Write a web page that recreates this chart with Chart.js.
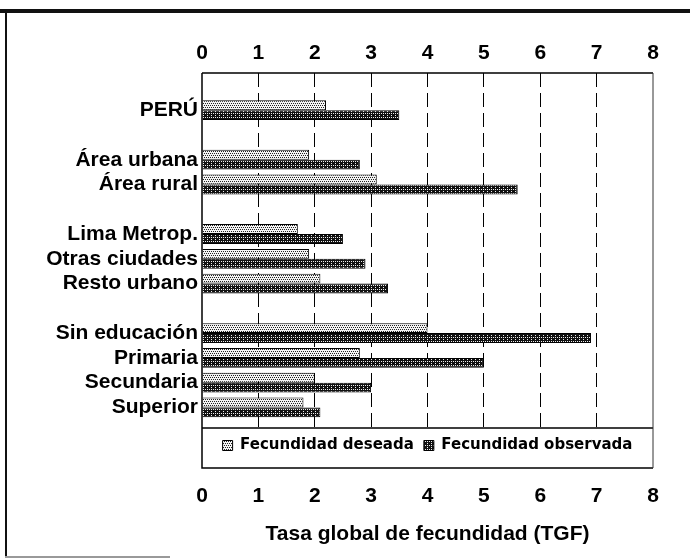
<!DOCTYPE html>
<html>
<head>
<meta charset="utf-8">
<script src="https://cdn.jsdelivr.net/npm/chart.js@4/dist/chart.umd.min.js"></script>
<style>
  html, body { margin: 0; padding: 0; background: #fff; }
  #wrap { width: 690px; height: 560px; }
</style>
</head>
<body>
<div id="wrap"><canvas id="tgf" width="690" height="560"></canvas></div>
<script>
// categories (blank entries are the gaps between groups)
const categories = ['PERÚ', '', 'Área urbana', 'Área rural', '', 'Lima Metrop.', 'Otras ciudades', 'Resto urbano', '', 'Sin educación', 'Primaria', 'Secundaria', 'Superior'];
const deseada   = [2.2, null, 1.9, 3.1, null, 1.7, 1.9, 2.1, null, 4.0, 2.8, 2.0, 1.8];
const observada = [3.5, null, 2.8, 5.6, null, 2.5, 2.9, 3.3, null, 6.9, 5.0, 3.0, 2.1];
const xTicks = [0, 1, 2, 3, 4, 5, 6, 7, 8];
const seriesNames = ['Fecundidad deseada', 'Fecundidad observada'];
const axisTitle = 'Tasa global de fecundidad (TGF)';

const LABEL_FONT = "'Liberation Sans', Arial, sans-serif";

function makePattern(w, h, bg, fg, dots) {
    const c = document.createElement('canvas');
    c.width = w; c.height = h;
    const g = c.getContext('2d');
    g.fillStyle = bg;
    g.fillRect(0, 0, w, h);
    g.fillStyle = fg;
    dots.forEach(d => g.fillRect(d[0], d[1], d[2], d[3]));
    return g.createPattern(c, 'repeat');
}

// light dotted fill and dark crosshatch fill, like the printed figure
const lightFill = makePattern(4, 4, '#f4f4f4', '#222', [[0, 1, 1, 1], [2, 1, 1, 1], [1, 3, 1, 1], [3, 3, 1, 1]]);
const darkFill = makePattern(4, 4, '#111', '#eee', [[1, 1, 1, 1], [3, 3, 1, 1], [3, 1, 1, 1]]);

function toPoints(values) {
    return values.map((v, i) => ({ x: v, y: i })).filter(p => p.x !== null);
}

// scanned page border
const pageFrame = {
    id: 'pageFrame',
    beforeDraw(chart) {
        const c = chart.ctx;
        c.save();
        c.fillStyle = '#fff';
        c.fillRect(0, 0, chart.width, chart.height);
        c.fillStyle = '#111';
        c.fillRect(0, 9, chart.width, 4);
        c.fillRect(5, 9, 2, 549);
        c.fillStyle = '#999';
        c.fillRect(5, 556, 165, 2);
        c.restore();
    }
};

// box round the plot and the legend
const plotFrame = {
    id: 'plotFrame',
    afterDatasetsDraw(chart) {
        const a = chart.chartArea;
        const boxBottom = chart.legend.top + 40;
        const c = chart.ctx;
        c.save();
        c.strokeStyle = '#000';
        c.lineWidth = 1.5;
        c.beginPath();
        c.moveTo(a.left, a.top); c.lineTo(a.right, a.top);
        c.moveTo(a.left, a.top); c.lineTo(a.left, boxBottom);
        c.lineTo(a.right, boxBottom);
        c.moveTo(a.left, a.bottom); c.lineTo(a.right, a.bottom);
        c.stroke();
        c.lineWidth = 1;
        c.strokeStyle = '#333';
        c.beginPath();
        c.moveTo(a.right, a.top); c.lineTo(a.right, boxBottom);
        c.stroke();
        c.restore();
    }
};

Chart.defaults.font.family = LABEL_FONT;
Chart.defaults.color = '#000';

new Chart(document.getElementById('tgf'), {
    type: 'bar',
    data: {
        datasets: [
            {
                label: seriesNames[0],
                data: toPoints(deseada),
                backgroundColor: lightFill,
                borderColor: '#000',
                borderWidth: 1
            },
            {
                label: seriesNames[1],
                data: toPoints(observada),
                backgroundColor: darkFill,
                borderColor: '#000',
                borderWidth: 1
            }
        ]
    },
    options: {
        indexAxis: 'y',
        responsive: false,
        animation: false,
        categoryPercentage: 0.8,
        barPercentage: 1,
        layout: { padding: { left: 0, right: 37, top: 0, bottom: 0 } },
        plugins: {
            tooltip: { enabled: false },
            legend: {
                position: 'bottom',
                fullSize: false,
                weight: -1,
                labels: {
                    font: { family: "'DejaVu Sans', sans-serif", size: 15, weight: 'bold' },
                    boxWidth: 10,
                    boxHeight: 10,
                    padding: 10,
                    color: '#000'
                }
            }
        },
        scales: {
            x: {
                type: 'linear',
                position: 'top',
                min: 0,
                max: 8,
                afterBuildTicks: s => { s.ticks = xTicks.map(v => ({ value: v })); },
                afterFit: s => { s.height = 73; },
                ticks: { padding: 7, font: { size: 21, weight: 'bold' } },
                border: { display: false, dash: [14, 6] },
                grid: {
                    drawTicks: false,
                    color: ctx => (ctx.tick && (ctx.tick.value === 0 || ctx.tick.value === 8)) ? 'rgba(0,0,0,0)' : '#000',
                    lineWidth: 1
                }
            },
            x2: {
                type: 'linear',
                position: 'bottom',
                min: 0,
                max: 8,
                afterBuildTicks: s => { s.ticks = xTicks.map(v => ({ value: v })); },
                afterFit: s => { s.height = 97; },
                ticks: { padding: 21, font: { size: 21, weight: 'bold' } },
                border: { display: false },
                grid: { display: false, drawTicks: false },
                title: {
                    display: true,
                    text: axisTitle,
                    font: { size: 21, weight: 'bold' },
                    padding: { top: 4, bottom: 13 }
                }
            },
            y: {
                type: 'linear',
                reverse: true,
                offset: false,
                min: -1.5,
                max: 12.83,
                afterBuildTicks: s => {
                    s.ticks = categories.map((c, i) => ({ value: i })).filter(t => categories[t.value] !== '');
                },
                afterFit: s => { s.width = 202; },
                ticks: {
                    padding: 4,
                    font: { size: 21, weight: 'bold' },
                    callback: v => categories[v] || ''
                },
                border: { display: false },
                grid: { display: false, drawTicks: false, offset: false }
            }
        }
    },
    plugins: [pageFrame, plotFrame]
});
</script>
</body>
</html>
